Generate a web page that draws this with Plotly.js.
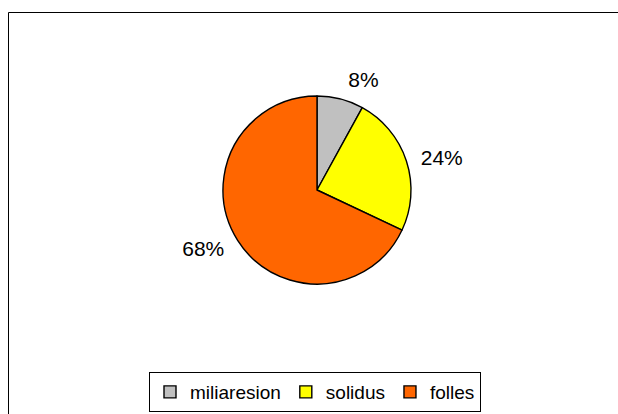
<!DOCTYPE html>
<html><head><meta charset="utf-8">
<script src="https://cdn.plot.ly/plotly-3.0.1.min.js"></script>
<style>html,body{margin:0;padding:0;background:#fff}#chart{width:618px;height:414px}</style>
</head><body><div id="chart"></div>
<script>
const categories = ["miliaresion", "solidus", "folles"];
const values = [8, 24, 68];
const colors = ["#C0C0C0", "#FFFF00", "#FF6600"];

const W = 618, H = 414;
const cx = 317, cy = 190, r = 94, rLabel = 103;
const FONT = "Liberation Sans, Arial, sans-serif";

function dom(rad) {
  return {x: [(cx - rad) / W, (cx + rad) / W], y: [1 - (cy + rad) / H, 1 - (cy - rad) / H]};
}

const pieTrace = {
  type: "pie",
  labels: categories,
  values: values,
  sort: false,
  direction: "clockwise",
  rotation: 0,
  marker: {colors: colors, line: {color: "#000", width: 1.4}},
  textinfo: "none",
  hoverinfo: "none",
  domain: dom(r)
};

const labelTrace = {
  type: "pie",
  labels: categories,
  values: values,
  sort: false,
  direction: "clockwise",
  rotation: 0,
  showlegend: false,
  marker: {colors: ["rgba(0,0,0,0)", "rgba(0,0,0,0)", "rgba(0,0,0,0)"], line: {width: 0}},
  textinfo: "percent",
  textposition: "outside",
  texttemplate: "%{percent:.0%}",
  textfont: {family: FONT, size: 21, color: "#000"},
  hoverinfo: "none",
  domain: dom(rLabel)
};

const layout = {
  width: W, height: H,
  margin: {l: 0, r: 0, t: 0, b: 0},
  paper_bgcolor: "#fff",
  showlegend: true,
  legend: {
    orientation: "h", x: 315 / W, xanchor: "center", y: 1 - 372 / H, yanchor: "top",
    bgcolor: "#fff", bordercolor: "#000", borderwidth: 1,
    font: {family: FONT, size: 19, color: "#000"},
    itemwidth: 30, tracegroupgap: 0
  },
  shapes: [{
    type: "rect", xref: "paper", yref: "paper",
    x0: 8.5 / W, x1: 1.05, y0: -0.05, y1: 1 - 12.5 / H,
    line: {color: "#000", width: 1}, fillcolor: "rgba(0,0,0,0)", layer: "below"
  }]
};

Plotly.newPlot("chart", [pieTrace, labelTrace], layout, {displayModeBar: false, staticPlot: true});
</script></body></html>
